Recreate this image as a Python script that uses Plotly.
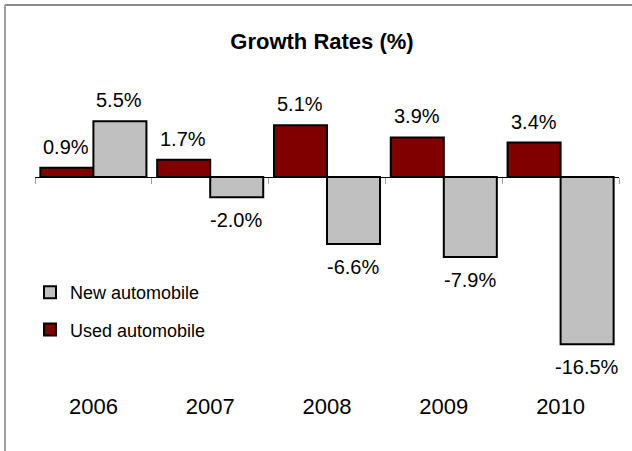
import plotly.graph_objects as go

# Annual growth rates (%) for automobile sales
years = ["2006", "2007", "2008", "2009", "2010"]
used_auto = [0.9, 1.7, 5.1, 3.9, 3.4]
new_auto = [5.5, -2.0, -6.6, -7.9, -16.5]
series_names = ["Used automobile", "New automobile"]

W, H = 632, 451
M_L, M_R, M_T, M_B = 35, 13, 70, 60
Y_RANGE = [-21.1, 10.55]
X_RANGE = [-0.5, len(years) - 0.5]
FONT = "Arial, Liberation Sans, sans-serif"

plot_w = W - M_L - M_R
plot_h = H - M_T - M_B


def px_x(px):
    """Pixel column -> paper x."""
    return (px - M_L) / plot_w


def px_y(px):
    """Pixel row (from top) -> paper y."""
    return (H - M_B - px) / plot_h


fig = go.Figure()
fig.add_trace(go.Bar(
    x=years, y=used_auto, name=series_names[0],
    marker=dict(color="#800000", line=dict(color="#000000", width=2)),
    legendrank=2, legendgroup="used",
))
fig.add_trace(go.Bar(
    x=years, y=new_auto, name=series_names[1],
    marker=dict(color="#c0c0c0", line=dict(color="#000000", width=2)),
    legendrank=1, legendgroup="new",
))
# helper trace carrying the category axis that sits on y = 0
fig.add_trace(go.Scatter(
    x=years, y=[0] * len(years), xaxis="x2", mode="markers",
    marker=dict(opacity=0), showlegend=False, hoverinfo="skip",
))

# value labels above / below every bar (x given as category index)
annotations = []
for vals, shift in ((used_auto, -27), (new_auto, 26)):
    for i, v in enumerate(vals):
        annotations.append(dict(
            x=i, y=v, xref="x", yref="y", text=f"{v:.1f}%",
            showarrow=False, xshift=shift, yshift=21 if v >= 0 else -23,
            xanchor="center", yanchor="middle",
            font=dict(family=FONT, size=20, color="#000"),
        ))

zero_pos = (0 - Y_RANGE[0]) / (Y_RANGE[1] - Y_RANGE[0])

fig.update_layout(
    width=W, height=H,
    margin=dict(l=M_L, r=M_R, t=M_T, b=M_B),
    paper_bgcolor="white", plot_bgcolor="white",
    font=dict(family=FONT, color="#000"),
    barmode="group", bargap=0.092, bargroupgap=0,
    title=dict(
        text="<b>Growth Rates (%)</b>", x=322 / W, xref="container",
        y=1 - 41 / H, yref="container", xanchor="center", yanchor="middle",
        font=dict(family=FONT, size=22, color="#000"),
    ),
    xaxis=dict(
        type="category", categoryorder="array", categoryarray=years,
        range=X_RANGE,
        showline=False, showgrid=False, zeroline=False, ticks="",
        tickfont=dict(family=FONT, size=22, color="#000"),
    ),
    xaxis2=dict(
        type="category", categoryorder="array", categoryarray=years,
        range=X_RANGE,
        overlaying="x", anchor="free", position=zero_pos, side="bottom",
        showline=True, linecolor="#000", linewidth=1,
        ticks="outside", ticklen=6, tickcolor="#a0a0a0", tickwidth=1,
        tickson="boundaries", showticklabels=False, showgrid=False,
        zeroline=False,
    ),
    yaxis=dict(
        range=Y_RANGE, visible=False, showgrid=False, zeroline=False,
    ),
    showlegend=True,
    legend=dict(
        x=px_x(30), y=px_y(274), xanchor="left", yanchor="top",
        bgcolor="rgba(0,0,0,0)", traceorder="grouped", tracegroupgap=11,
        font=dict(family=FONT, size=18, color="#000"),
    ),
    annotations=annotations,
    shapes=[
        dict(type="line", xref="paper", yref="paper",
             x0=px_x(5), x1=px_x(W + 5), y0=px_y(5), y1=px_y(5),
             line=dict(color="#8a8a8a", width=2)),
        dict(type="line", xref="paper", yref="paper",
             x0=px_x(5), x1=px_x(5), y0=px_y(5), y1=px_y(H + 5),
             line=dict(color="#a0a0a0", width=2)),
    ],
)

fig.write_html("out.html")
